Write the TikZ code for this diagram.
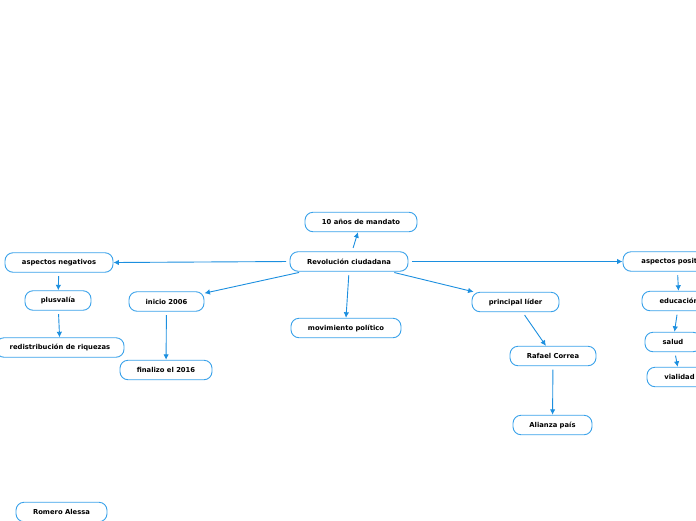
\documentclass[tikz,border=0pt]{standalone}
\usepackage{fontspec}
\setmainfont{DejaVu Sans}
\usetikzlibrary{arrows.meta}
\definecolor{mapblue}{HTML}{1C8FDF}
\definecolor{boxblue}{HTML}{3AA2EA}

\begin{document}
\begin{tikzpicture}[x=1pt,y=-1pt,
    every node/.style={font=\fontsize{6.8}{7.5}\selectfont\bfseries},
    topic/.style={draw=boxblue,line width=0.9pt,rounded corners=8pt,fill=white,
                  minimum height=19.5pt,inner xsep=4pt,inner ysep=0pt},
    arr/.style={-{Latex[length=5.5pt,width=5.5pt]},draw=mapblue,line width=0.9pt,
                shorten <=3.5pt},
  ]
  \useasboundingbox (0,0) rectangle (696,520);
  \clip (0,0) rectangle (696,520);

  % centro
  \node[topic,minimum width=118pt] (rev) at (349,261.5) {Revolución ciudadana};
  \node[topic,minimum width=112pt] (man) at (361,222) {10 años de mandato};
  \node[topic,minimum width=110pt] (mov) at (346,328) {movimiento político};

  % izquierda
  \node[topic,minimum width=108pt] (neg) at (59,262.5) {aspectos negativos};
  \node[topic,minimum width=66pt] (plus) at (58,300.5) {plusvalía};
  \node[topic,minimum width=128pt] (red) at (60,347.5) {redistribución de riquezas};
  \node[topic,minimum width=75pt] (ini) at (166.5,301.5) {inicio 2006};
  \node[topic,minimum width=92pt] (fin) at (166,370) {finalizo el 2016};

  % derecha
  \node[topic,minimum width=87pt] (lid) at (515.5,302) {principal líder};
  \node[topic,minimum width=86pt] (cor) at (553,356) {Rafael Correa};
  \node[topic,minimum width=79pt] (ali) at (552.5,425) {Alianza país};
  \node[topic,minimum width=108pt] (pos) at (677,261.5) {aspectos positivos};
  \node[topic,minimum width=74pt] (edu) at (679,301) {educación};
  \node[topic,minimum width=56pt] (sal) at (673,342) {salud};
  \node[topic,minimum width=65pt] (via) at (679.5,377) {vialidad};

  \node[topic,minimum width=91pt] (aut) at (61.5,512) {Romero Alessa};

  \draw[arr] (rev) -- (man);
  \draw[arr] (rev.west) -- (neg.east);
  \draw[arr] (rev.east) -- (pos.west);
  \draw[arr] (rev) -- (ini);
  \draw[arr] (rev.south) -- (mov.north);
  \draw[arr] (rev) -- (lid);
  \draw[arr] (lid) -- (cor);
  \draw[arr] (cor) -- (ali);
  \draw[arr] (ini) -- (fin);
  \draw[arr] (neg) -- (plus);
  \draw[arr] (plus) -- (red);
  \draw[arr] (pos) -- (edu);
  \draw[arr] (edu) -- (sal);
  \draw[arr] (sal) -- (via);
\end{tikzpicture}
\end{document}
